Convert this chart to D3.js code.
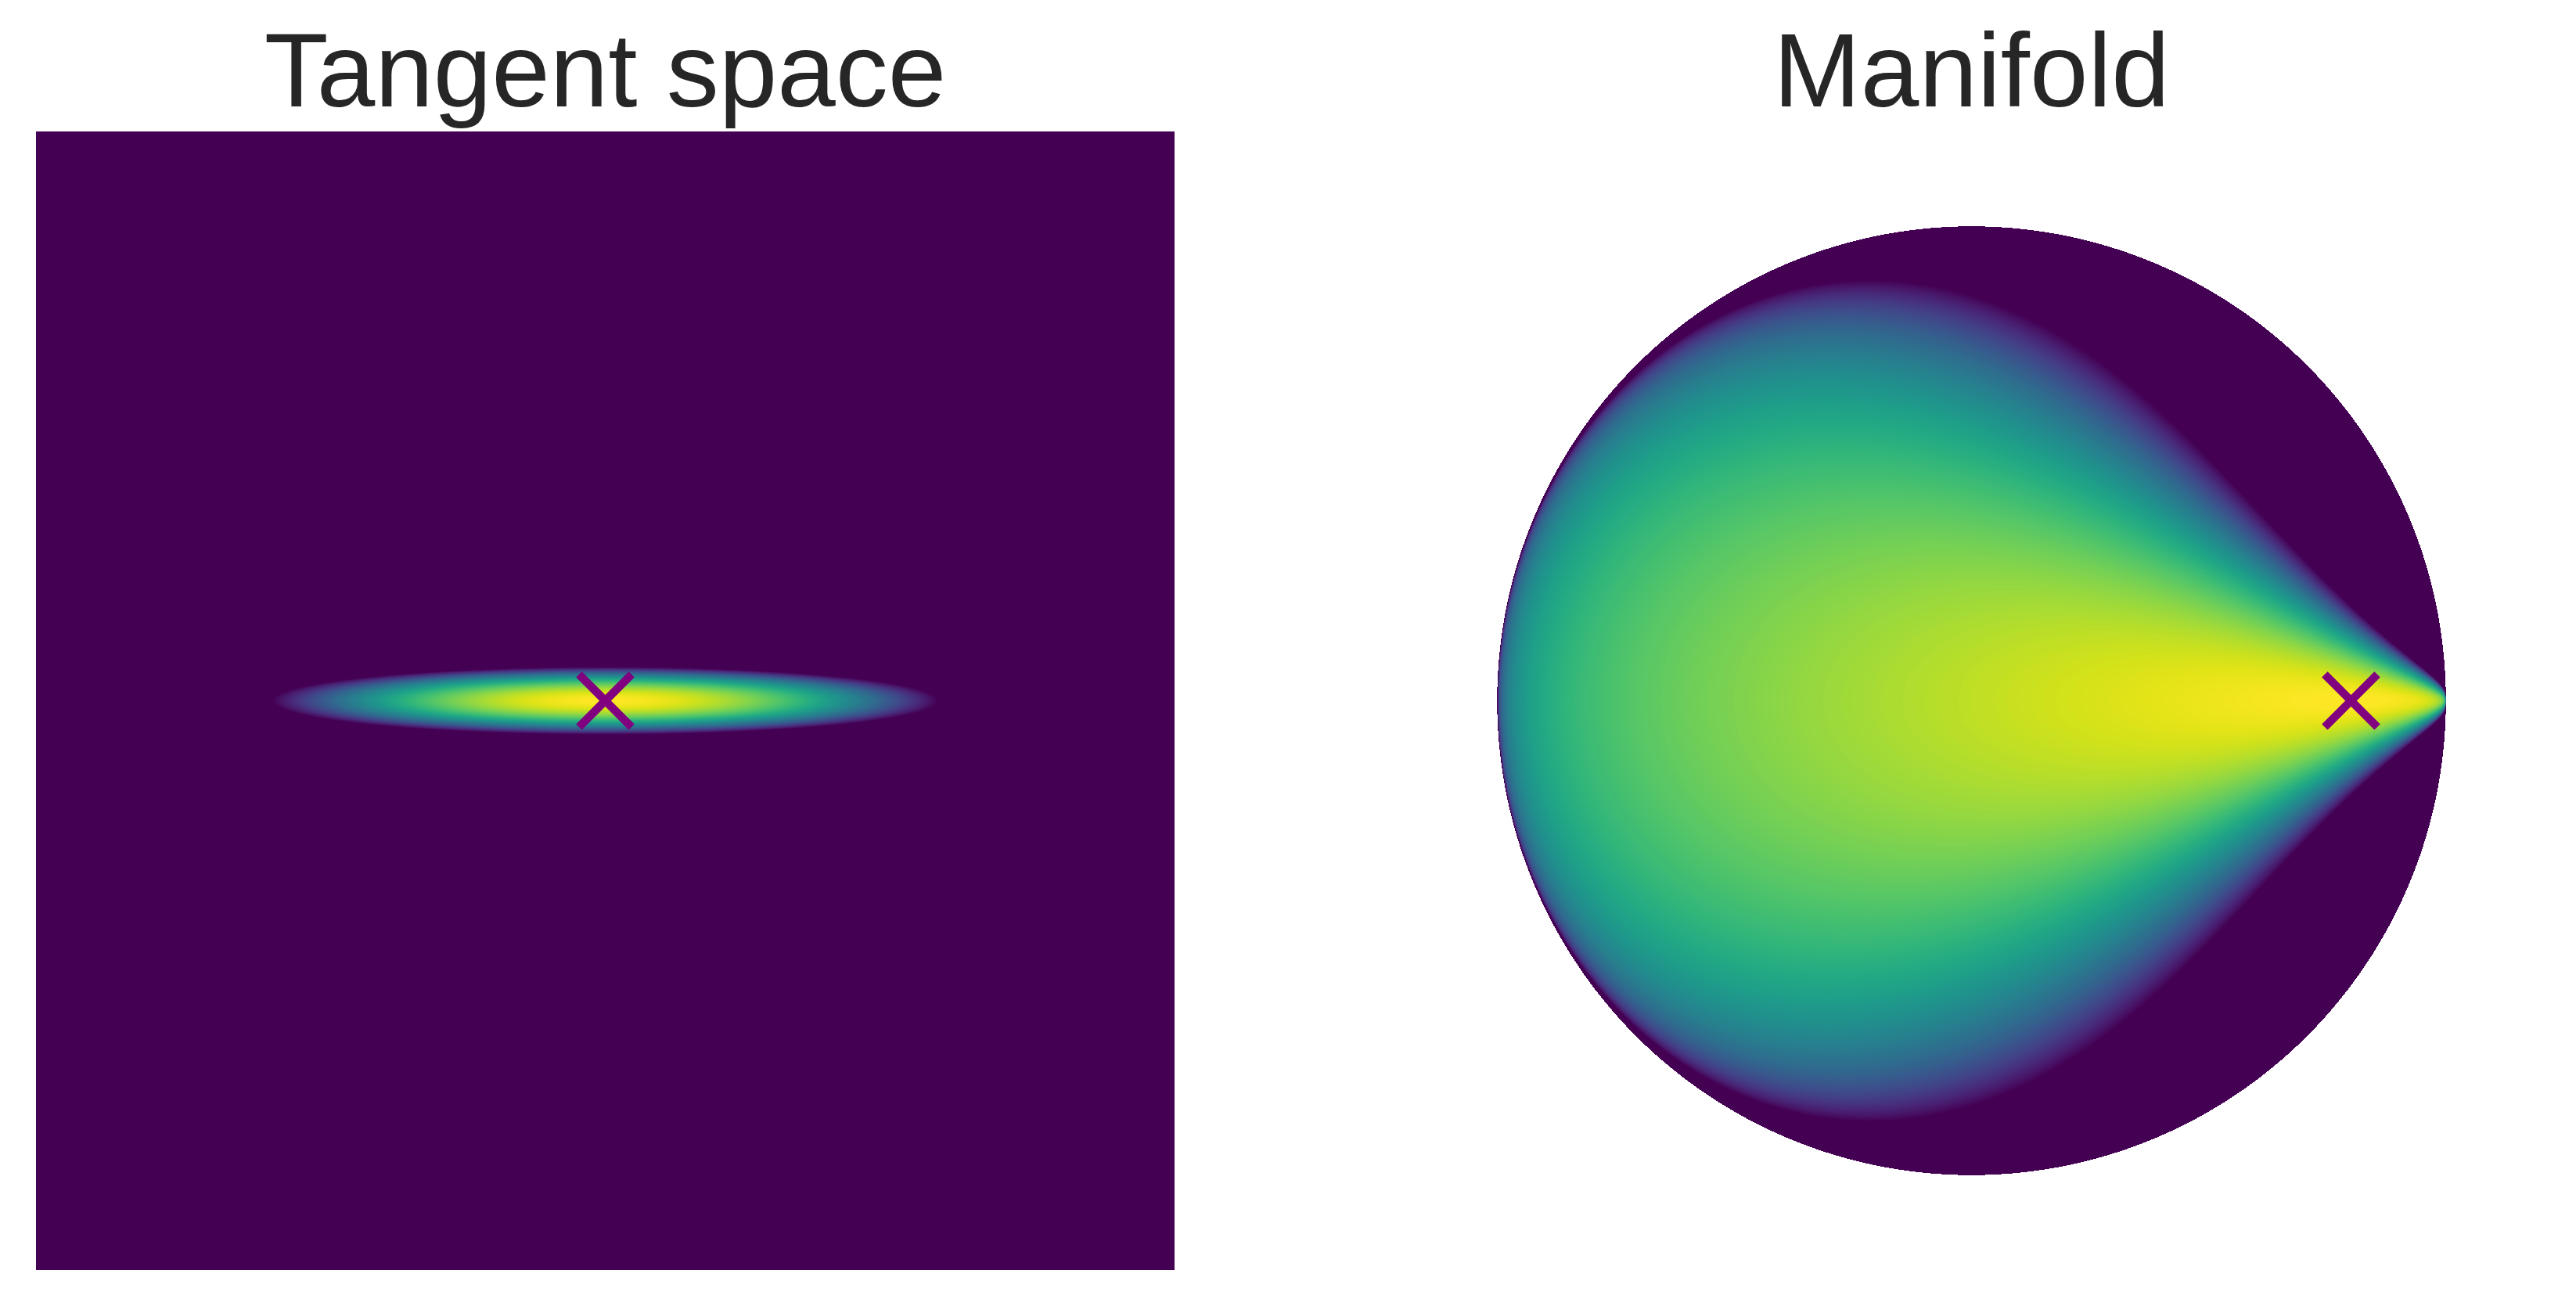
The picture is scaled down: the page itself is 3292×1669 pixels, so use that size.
<!DOCTYPE html>
<html>
<head>
<meta charset="utf-8">
<script src="https://cdn.jsdelivr.net/npm/d3@7"></script>
<style>
  body { margin: 0; background: #fff; }
  #fig { position: relative; width: 3292px; height: 1669px; }
  #fig canvas, #fig svg { position: absolute; left: 0; top: 0; }
</style>
</head>
<body>
<div id="fig"></div>
<script>
// titles of the two panels
const titles = ["Tangent space", "Manifold"];
// wrapped normal on the Poincare disk
const mu = [0.8, 0];          // mean on the disk (drawn as the cross)
const sigma = [10, 0.267];    // std devs along the two tangent axes
const logFloor = -7.5;        // log density floor of the colour scale
// data ranges of the two images
const tangentX = [-66.2, 66.2];
const tangentY = [-17.5, 17.5];
const diskRange = [-1.2, 1.2];
const gridSize = 1455;

const W = 3292, H = 1669;
const side = 1455, axTop = 168;
const lefts = [46, 1792];

const fig = d3.select("#fig");
const canvas = fig.append("canvas").attr("width", W).attr("height", H).node();
const ctx = canvas.getContext("2d");
ctx.imageSmoothingEnabled = false;
const svg = fig.append("svg").attr("width", W).attr("height", H);

// 256 level viridis lookup, like a matplotlib colormap
const color = d3.scaleQuantize()
    .domain([logFloor, 0])
    .range(d3.quantize(d3.interpolateViridis, 256).map(c => d3.rgb(c)));

function tangentLogDensity(u, v) {
    return -u * u / (2 * sigma[0] * sigma[0]) - v * v / (2 * sigma[1] * sigma[1]);
}

// mobius addition a (+) b in the unit disk
function mobiusAdd(a, b) {
    var ab = a[0] * b[0] + a[1] * b[1];
    var a2 = a[0] * a[0] + a[1] * a[1];
    var b2 = b[0] * b[0] + b[1] * b[1];
    var k1 = 1 + 2 * ab + b2, k2 = 1 - a2;
    var den = 1 + 2 * ab + a2 * b2;
    return [(k1 * a[0] + k2 * b[0]) / den, (k1 * a[1] + k2 * b[1]) / den];
}

function manifoldLogDensity(x, y) {
    if (x * x + y * y >= 1) return null;
    var w = mobiusAdd([-mu[0], -mu[1]], [x, y]);
    var n = Math.hypot(w[0], w[1]);
    if (n < 1e-9) return 0;
    var d = 2 * Math.atanh(Math.min(n, 1 - 1e-15));
    var u = d * w[0] / n, v = d * w[1] / n;
    return tangentLogDensity(u, v) + Math.log(d / Math.sinh(d));
}

function drawImage(i, xr, yr, f) {
    var gx = d3.scaleLinear().domain([0, gridSize]).range(xr);
    var gy = d3.scaleLinear().domain([0, gridSize]).range([yr[1], yr[0]]);
    var off = document.createElement("canvas");
    off.width = gridSize; off.height = gridSize;
    var octx = off.getContext("2d");
    var img = octx.createImageData(gridSize, gridSize);
    for (var r = 0; r < gridSize; r++) {
        for (var c = 0; c < gridSize; c++) {
            var val = f(gx(c + 0.5), gy(r + 0.5));
            var k = (r * gridSize + c) * 4;
            if (val === null) { img.data[k + 3] = 0; continue; }
            var col = color(Math.max(logFloor, Math.min(0, val)));
            img.data[k] = col.r; img.data[k + 1] = col.g; img.data[k + 2] = col.b; img.data[k + 3] = 255;
        }
    }
    octx.putImageData(img, 0, 0);
    ctx.drawImage(off, lefts[i], axTop, side, side);
}

drawImage(0, tangentX, tangentY, tangentLogDensity);
drawImage(1, diskRange, diskRange, manifoldLogDensity);

// pixel scales of both axes
var sx = [
    d3.scaleLinear().domain(tangentX).range([lefts[0], lefts[0] + side]),
    d3.scaleLinear().domain(diskRange).range([lefts[1], lefts[1] + side])
];
var sy = [
    d3.scaleLinear().domain(tangentY).range([axTop + side, axTop]),
    d3.scaleLinear().domain(diskRange).range([axTop + side, axTop])
];
var marks = [[0, 0], mu];

svg.selectAll(".title").data(titles).enter().append("text")
    .attr("x", (d, i) => lefts[i] + side / 2)
    .attr("y", 136)
    .attr("text-anchor", "middle")
    .style("font-family", "'Liberation Sans', Arial, sans-serif")
    .style("font-size", "134px")
    .style("fill", "#262626")
    .text(d => d);

var s = 33.6;
svg.selectAll(".cross").data(marks).enter().append("path")
    .attr("d", function (d, i) {
        var cx = sx[i](d[0]), cy = sy[i](d[1]);
        return "M" + (cx - s) + "," + (cy - s) + "L" + (cx + s) + "," + (cy + s) +
            "M" + (cx - s) + "," + (cy + s) + "L" + (cx + s) + "," + (cy - s);
    })
    .attr("stroke", "#800080")
    .attr("stroke-width", 10.5)
    .attr("stroke-linecap", "butt")
    .attr("fill", "none");
</script>
</body>
</html>
